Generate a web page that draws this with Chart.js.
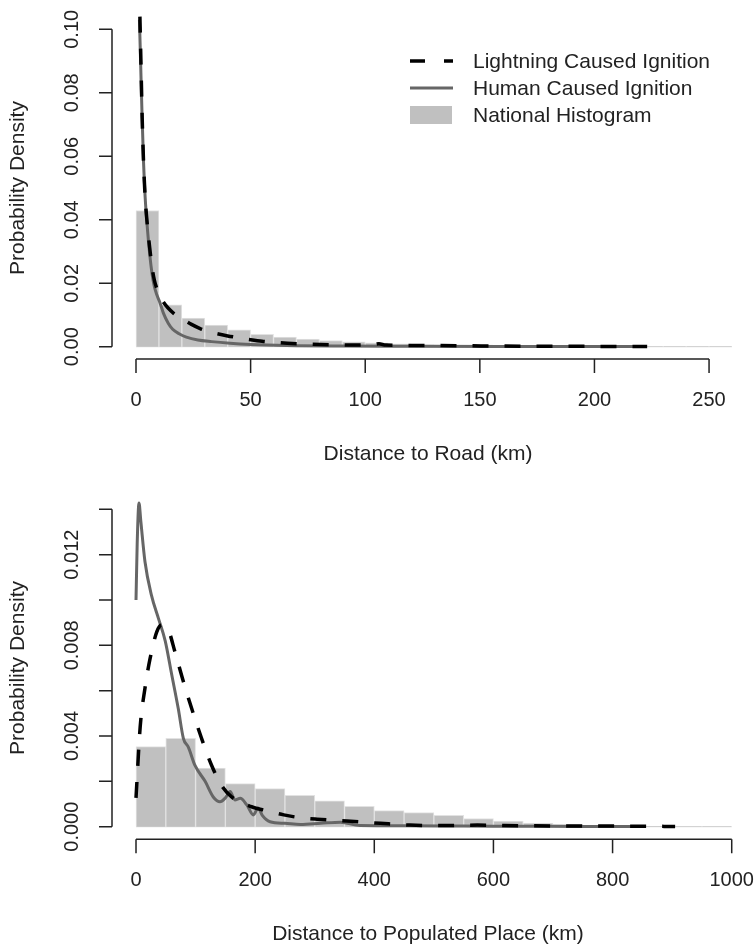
<!DOCTYPE html>
<html><head><meta charset="utf-8">
<script src="https://cdn.jsdelivr.net/npm/chart.js@4"></script>
<style>body{margin:0;background:#fff;} canvas{display:block;}</style>
</head><body>
<canvas id="c1" width="756" height="475"></canvas>
<canvas id="c2" width="756" height="474"></canvas>
<script>
// ---------- Panel 1: Distance to Road ----------
const roadBinWidth = 10;
const roadBinCenters = [5,15,25,35,45,55,65,75,85,95,105,115,125,135,145,155,165,175,185,195,205,215,225,235,245,255];
const roadHist = [0.0429,0.0132,0.0090,0.0068,0.0053,0.0039,0.0030,0.0024,0.0019,0.0015,0.0012,0.0009,0.0007,0.00055,0.00045,0.00035,0.00028,0.00022,0.00017,0.00013,0.0001,0.00008,0.00006,0.00004,0.00003,0.00002];
const roadLightX = [1.7,2.2,2.7,3.3,4,5,6,7,8,9,10,12,14,17,20,24,28,32,36,40,45,50,55,60,66,75,85,95,103,106,109,120,140,160,180,200,223];
const roadLightY = [0.104,0.088,0.072,0.058,0.047,0.038,0.031,0.025,0.021,0.0185,0.0165,0.014,0.0122,0.0102,0.0088,0.0071,0.0057,0.0047,0.0040,0.0034,0.0028,0.0022,0.0017,0.0014,0.0011,0.0008,0.0006,0.0005,0.0006,0.0009,0.0005,0.0004,0.0003,0.0002,0.00015,0.0001,0.00005];
const roadHumanX = [1.5,2,2.6,3.3,4,5,6,7,8,9,10.5,12,14,16,19,22,27,33,41,50,57,70,90,120,160,222];
const roadHumanY = [0.103,0.09,0.074,0.058,0.047,0.037,0.029,0.023,0.019,0.0165,0.0138,0.0105,0.0075,0.0055,0.004,0.003,0.0021,0.0016,0.0011,0.0007,0.0005,0.0003,0.0002,0.00015,0.0001,0.00005];
const roadXTicks = [0,50,100,150,200,250];
const roadXLabels = ["0","50","100","150","200","250"];
const roadYTicks = [0,0.02,0.04,0.06,0.08,0.10];
const roadYLabels = ["0.00","0.02","0.04","0.06","0.08","0.10"];

// ---------- Panel 2: Distance to Populated Place ----------
const popBinWidth = 50;
const popBinCenters = [25,75,125,175,225,275,325,375,425,475,525,575,625,675,725,775,825,875,925,975];
const popHist = [0.00353,0.00390,0.00258,0.00190,0.00168,0.00138,0.00114,0.00090,0.00071,0.00062,0.00050,0.00036,0.00025,0.00016,0.00010,0.00006,0.00004,0.00002,0.00001,0.00001];
const popLightX = [0,7,15,23.5,35,43,54,65.5,79.5,93.6,110,127,144,161,194,220,248,275,304,354,410,460,516,573,650,750,850,905];
const popLightY = [0.00127,0.0044,0.0061,0.0074,0.0086,0.0089,0.0087,0.0077,0.0064,0.0052,0.0039,0.0027,0.0018,0.0013,0.00088,0.0007,0.00052,0.0004,0.00033,0.00025,0.00015,0.00007,0.00005,0.00007,0.00004,0.00003,0.00002,0.00001];
const popHumanX = [0,2,5,8,15,26,37.5,49,60,71,79.5,88,99,116,130,141,150,158,166,175,186,197,205,212,225,250,276,310,343,376,450,550,650,750,850];
const popHumanY = [0.0100,0.0125,0.01428,0.0135,0.0117,0.0102,0.0092,0.0082,0.0067,0.0052,0.0039,0.0035,0.0027,0.0020,0.0013,0.0011,0.00127,0.00155,0.00118,0.00125,0.00096,0.00052,0.00083,0.0005,0.00022,0.00015,0.0001,0.00015,0.0002,0.00005,0.00004,0.00003,0.00002,0.00001,0.00001];
const popXTicks = [0,200,400,600,800,1000];
const popXLabels = ["0","200","400","600","800","1000"];
const popYTicks = [0,0.002,0.004,0.006,0.008,0.010,0.012,0.014];
const popYLabels = ["0.000","","0.004","","0.008","","0.012",""];

const legendLabels = ["Lightning Caused Ignition","Human Caused Ignition","National Histogram"];

const FAMILY = '"Liberation Sans", Arial, Helvetica, sans-serif';
const TICK_FONT = '20px ' + FAMILY;
const TITLE_FONT = '21px ' + FAMILY;
const INK = '#222';
const HIST_FILL = '#c0c0c0';
const DASH = [16,16];

const pts = (xs, ys) => xs.map((x, i) => ({x: x, y: ys[i]}));

const rAxes = {
  id: 'rAxes',
  beforeDatasetsDraw(chart, args, o) {
    const ctx = chart.ctx, xs = chart.scales.x, ys = chart.scales.y;
    const b0 = xs.getPixelForValue(o.binCenters[0] - o.binWidth / 2);
    const b1 = xs.getPixelForValue(o.binCenters[o.binCenters.length - 1] + o.binWidth / 2);
    const y0 = ys.getPixelForValue(0);
    ctx.save();
    ctx.strokeStyle = '#d4d4d4'; ctx.lineWidth = 1;
    ctx.beginPath(); ctx.moveTo(b0, y0); ctx.lineTo(b1, y0); ctx.stroke();
    ctx.restore();
  },
  afterDraw(chart, args, o) {
    const ctx = chart.ctx, xs = chart.scales.x, ys = chart.scales.y, a = chart.chartArea;
    ctx.save();
    ctx.strokeStyle = INK; ctx.fillStyle = INK; ctx.lineWidth = 1.5;
    // x axis
    const xt = o.xTicks, yb = a.bottom;
    ctx.beginPath();
    ctx.moveTo(xs.getPixelForValue(xt[0]), yb);
    ctx.lineTo(xs.getPixelForValue(xt[xt.length - 1]), yb);
    xt.forEach(v => { const p = xs.getPixelForValue(v); ctx.moveTo(p, yb); ctx.lineTo(p, yb + 14); });
    ctx.stroke();
    ctx.textAlign = 'center'; ctx.textBaseline = 'middle';
    ctx.font = TICK_FONT;
    xt.forEach((v, i) => ctx.fillText(o.xLabels[i], xs.getPixelForValue(v), yb + 41));
    ctx.font = TITLE_FONT;
    ctx.fillText(o.xTitle, (a.left + a.right) / 2 + 2, yb + 95);
    // y axis
    const yt = o.yTicks, xl = a.left;
    ctx.beginPath();
    ctx.moveTo(xl, ys.getPixelForValue(yt[0]));
    ctx.lineTo(xl, ys.getPixelForValue(yt[yt.length - 1]));
    yt.forEach(v => { const p = ys.getPixelForValue(v); ctx.moveTo(xl, p); ctx.lineTo(xl - 13, p); });
    ctx.stroke();
    ctx.font = TICK_FONT;
    yt.forEach((v, i) => {
      if (!o.yLabels[i]) return;
      ctx.save();
      ctx.translate(xl - 40, ys.getPixelForValue(v));
      ctx.rotate(-Math.PI / 2);
      ctx.fillText(o.yLabels[i], 0, 0);
      ctx.restore();
    });
    ctx.font = TITLE_FONT;
    ctx.save();
    ctx.translate(18, (ys.getPixelForValue(yt[0]) + ys.getPixelForValue(yt[yt.length - 1])) / 2);
    ctx.rotate(-Math.PI / 2);
    ctx.fillText(o.yTitle, 0, 0);
    ctx.restore();
    // legend
    if (o.legend) {
      const lx = 410, lw = 43, tx = 473, rows = [61, 88, 115];
      ctx.textAlign = 'left';
      ctx.lineCap = 'butt';
      ctx.strokeStyle = '#000'; ctx.lineWidth = 3.5; ctx.setLineDash([15, 19]);
      ctx.beginPath(); ctx.moveTo(lx, rows[0]); ctx.lineTo(lx + lw, rows[0]); ctx.stroke();
      ctx.setLineDash([]);
      ctx.strokeStyle = '#666'; ctx.lineWidth = 3;
      ctx.beginPath(); ctx.moveTo(lx, rows[1]); ctx.lineTo(lx + lw, rows[1]); ctx.stroke();
      ctx.fillStyle = HIST_FILL;
      ctx.fillRect(lx, rows[2] - 9, 42, 18);
      ctx.fillStyle = INK;
      ctx.font = TITLE_FONT;
      o.legend.forEach((t, i) => ctx.fillText(t, tx, rows[i] + 1));
    }
    ctx.restore();
  }
};

function makeChart(id, cfg) {
  return new Chart(document.getElementById(id), {
    type: 'line',
    data: {
      datasets: [
        { type: 'line', label: legendLabels[0], data: cfg.light, borderColor: '#000', borderWidth: 3.5,
          borderDash: DASH, pointRadius: 0, fill: false, cubicInterpolationMode: 'monotone', borderCapStyle: 'butt' },
        { type: 'line', label: legendLabels[1], data: cfg.human, borderColor: '#666', borderWidth: 3,
          pointRadius: 0, fill: false, cubicInterpolationMode: 'monotone' },
        { type: 'bar', label: legendLabels[2], data: cfg.hist, backgroundColor: HIST_FILL,
          borderColor: '#e2e2e2', borderWidth: 1, borderSkipped: 'bottom', barPercentage: 1, categoryPercentage: 1 }
      ]
    },
    options: {
      responsive: false, animation: false, devicePixelRatio: 1,
      layout: { padding: cfg.padding },
      scales: {
        x: { type: 'linear', display: false, offset: false, min: cfg.xmin, max: cfg.xmax, ticks: { stepSize: cfg.xstep } },
        y: { type: 'linear', display: false, min: cfg.ymin, max: cfg.ymax }
      },
      plugins: { legend: { display: false }, tooltip: { enabled: false }, rAxes: cfg.axes }
    },
    plugins: [rAxes]
  });
}

makeChart('c1', {
  light: pts(roadLightX, roadLightY),
  human: pts(roadHumanX, roadHumanY),
  hist: pts(roadBinCenters, roadHist),
  padding: { left: 112, right: 16, top: 10, bottom: 116 },
  xmin: -10.47, xmax: 263.5, xstep: 50,
  ymin: -0.003875, ymax: 0.10608,
  axes: { xTicks: roadXTicks, xLabels: roadXLabels, yTicks: roadYTicks, yLabels: roadYLabels,
          xTitle: 'Distance to Road (km)', yTitle: 'Probability Density',
          binCenters: roadBinCenters, binWidth: roadBinWidth, legend: legendLabels }
});

makeChart('c2', {
  light: pts(popLightX, popLightY),
  human: pts(popHumanX, popHumanY),
  hist: pts(popBinCenters, popHist),
  padding: { left: 112, right: 16, top: 20, bottom: 474 - 364.3 },
  xmin: -40.3, xmax: 1013.9, xstep: 200,
  ymin: -0.000556, ymax: 0.01463,
  axes: { xTicks: popXTicks, xLabels: popXLabels, yTicks: popYTicks, yLabels: popYLabels,
          xTitle: 'Distance to Populated Place (km)', yTitle: 'Probability Density',
          binCenters: popBinCenters, binWidth: popBinWidth, legend: null }
});
</script>
</body></html>
